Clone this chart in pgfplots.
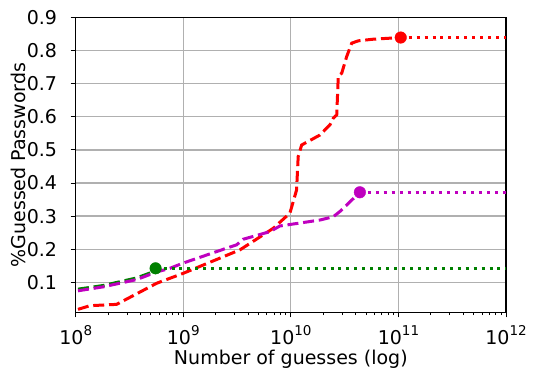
\documentclass[border=0pt]{standalone}
\usepackage{fontspec}
\setmainfont{DejaVu Sans}
\usepackage{pgfplots}
\pgfplotsset{compat=1.18}
\definecolor{mplgreen}{rgb}{0,0.5,0}
\definecolor{mplmag}{rgb}{0.75,0,0.75}
\definecolor{gridgray}{HTML}{B0B0B0}
\newcommand{\fs}{\fontsize{19bp}{22bp}\selectfont}
\newcommand{\tp}[1]{10\raisebox{0.45em}{\fontsize{13.5bp}{13.5bp}\selectfont #1}}
\begin{document}
\fs
\begin{tikzpicture}
\begin{axis}[
  xmode=log, log basis x=10,
  scale only axis, width=430.3bp, height=294.6bp,
  at={(0,0)}, anchor=south west,
  xmin=1e8, xmax=1e12, ymin=0.009, ymax=0.9,
  xtick={1e8,1e9,1e10,1e11,1e12},
  xticklabels={\tp{8},\tp{9},\tp{10},\tp{11},\tp{12}},
  minor xtick={2e8,3e8,4e8,5e8,6e8,7e8,8e8,9e8,2e9,3e9,4e9,5e9,6e9,7e9,8e9,9e9,2e10,3e10,4e10,5e10,6e10,7e10,8e10,9e10,2e11,3e11,4e11,5e11,6e11,7e11,8e11,9e11},
  ytick={0.1,0.2,0.3,0.4,0.5,0.6,0.7,0.8,0.9},
  yticklabels={0.1,0.2,0.3,0.4,0.5,0.6,0.7,0.8,0.9},
  tick align=outside, tick pos=left,
  major tick length=5bp, minor tick length=2.8bp,
  every tick/.style={black, line width=1bp},
  xmajorgrids, ymajorgrids,
  major grid style={gridgray, line width=1.2bp},
  axis line style={black, line width=1.2bp},
  tick label style={font=\fs},
  xticklabel style={anchor=base, yshift=-26.7bp},
  yticklabel style={anchor=east, xshift=-7.2bp},
  xlabel={Number of guesses (log)},
  ylabel={\%Guessed Passwords},
  every axis x label/.style={at={(axis description cs:0.5,0)}, anchor=base, yshift=-51.7bp, font=\fs},
  every axis y label/.style={at={(axis description cs:0,0.5)}, rotate=90, anchor=center, yshift=57.7bp, font=\fs},
]
% red dashed
\addplot[red, line width=3bp, dash pattern=on 11bp off 4.8bp] coordinates {
(1.05e8,0.018) (1.36e8,0.029) (2.4e8,0.033) (5.67e8,0.097) (1e9,0.127)
(3.37e9,0.198) (6.86e9,0.263) (9.8e9,0.309) (1.13e10,0.379) (1.17e10,0.480)
(1.26e10,0.515) (1.86e10,0.545) (2.31e10,0.576) (2.48e10,0.596) (2.67e10,0.606)
(2.76e10,0.724) (2.97e10,0.732) (3.3e10,0.782) (3.68e10,0.823) (4.23e10,0.830)
(5.83e10,0.835) (1.05e11,0.840)
};
% green dashed
\addplot[mplgreen, line width=3bp, dash pattern=on 11bp off 4.8bp] coordinates {
(1.05e8,0.079) (1.8e8,0.090) (3.69e8,0.113) (5.0e8,0.129) (5.53e8,0.142)
};
% magenta dashed
\addplot[mplmag, line width=3bp, dash pattern=on 11bp off 4.8bp] coordinates {
(1.05e8,0.074) (1.8e8,0.086) (3.69e8,0.108) (5.53e8,0.130) (7.5e8,0.142) (1e9,0.158) (2.53e9,0.203)
(3.13e9,0.213) (3.61e9,0.230) (6.4e9,0.253) (7.9e9,0.270) (1.86e10,0.288)
(2.48e10,0.298) (2.86e10,0.314) (4.38e10,0.372)
};
% dotted continuations
\addplot[red, line width=3bp, dash pattern=on 3bp off 4.95bp] coordinates {(1.05e11,0.840) (1e12,0.840)};
\addplot[mplgreen, line width=3bp, dash pattern=on 3bp off 4.95bp] coordinates {(5.53e8,0.142) (1e12,0.142)};
\addplot[mplmag, line width=3bp, dash pattern=on 3bp off 4.95bp] coordinates {(4.38e10,0.372) (1e12,0.372)};
% end markers
\addplot[only marks, mark=*, mark size=5.8bp, red] coordinates {(1.05e11,0.840)};
\addplot[only marks, mark=*, mark size=5.8bp, mplgreen] coordinates {(5.53e8,0.142)};
\addplot[only marks, mark=*, mark size=5.8bp, mplmag] coordinates {(4.38e10,0.372)};
\end{axis}
\pgfresetboundingbox
\path[use as bounding box] (-75.7bp,-64.7bp) rectangle (462.3bp,312.3bp);
\end{tikzpicture}
\end{document}
